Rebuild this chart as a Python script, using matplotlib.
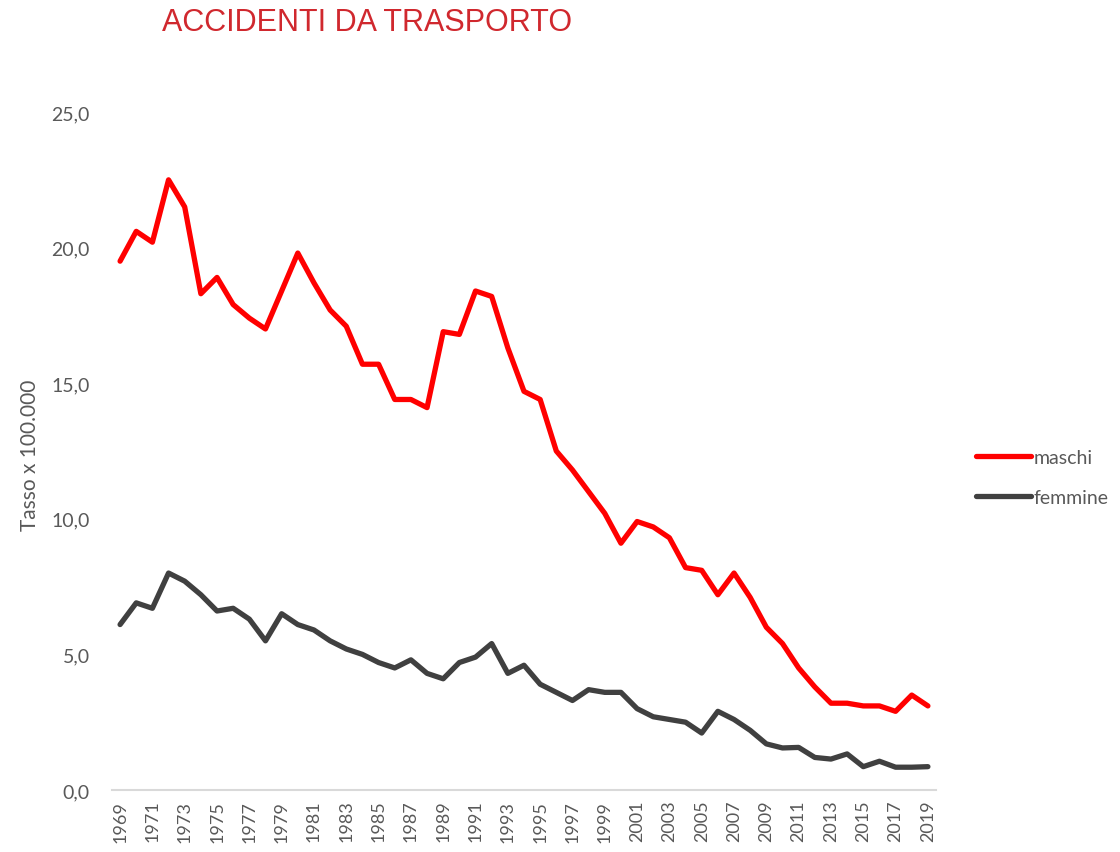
import matplotlib.pyplot as plt
import numpy as np

anni = np.arange(1969, 2020)

maschi = [19.5, 20.6, 20.2, 22.5, 21.5, 18.3, 18.9, 17.9, 17.4, 17.0,
          18.4, 19.8, 18.7, 17.7, 17.1, 15.7, 15.7, 14.4, 14.4, 14.1,
          16.9, 16.8, 18.4, 18.2, 16.3, 14.7, 14.4, 12.5, 11.8, 11.0,
          10.2, 9.1, 9.9, 9.7, 9.3, 8.2, 8.1, 7.2, 8.0, 7.1,
          6.0, 5.4, 4.5, 3.8, 3.2, 3.2, 3.1, 3.1, 2.9, 3.5, 3.1]

femmine = [6.1, 6.9, 6.7, 8.0, 7.7, 7.2, 6.6, 6.7, 6.3, 5.5,
           6.5, 6.1, 5.9, 5.5, 5.2, 5.0, 4.7, 4.5, 4.8, 4.3,
           4.1, 4.7, 4.9, 5.4, 4.3, 4.6, 3.9, 3.6, 3.3, 3.7,
           3.6, 3.6, 3.0, 2.7, 2.6, 2.5, 2.1, 2.9, 2.6, 2.2,
           1.7, 1.55, 1.57, 1.2, 1.14, 1.33, 0.86, 1.06, 0.84, 0.84, 0.86]

y_ticks = [0, 5, 10, 15, 20, 25]
y_labels = ["0,0", "5,0", "10,0", "15,0", "20,0", "25,0"]

testo = "#595959"
font = "Lato"

fig = plt.figure(figsize=(11.2, 8.53), dpi=100)
ax = fig.add_axes([0.1, 0.0727, 0.7357, 0.7948])

ax.plot(anni, maschi, color="#FF0000", lw=3.8, solid_capstyle="round",
        solid_joinstyle="round", label="maschi")
ax.plot(anni, femmine, color="#404040", lw=3.8, solid_capstyle="round",
        solid_joinstyle="round", label="femmine")

ax.set_xlim(1968.5, 2019.5)
ax.set_ylim(0, 25)

for s in ["top", "right", "left"]:
    ax.spines[s].set_visible(False)
ax.spines["bottom"].set_color("#D9D9D9")
ax.spines["bottom"].set_linewidth(1.5)

ax.set_yticks(y_ticks)
ax.set_yticklabels(y_labels, fontsize=14, color=testo, family=font)
ax.set_xticks(anni[::2])
ax.set_xticklabels([str(a) for a in anni[::2]], rotation=90, fontsize=13,
                   color=testo, family=font)
ax.tick_params(length=0)
ax.tick_params(axis="y", pad=16)
ax.tick_params(axis="x", pad=7)

fig.text(0.027, 0.4666, "Tasso x 100.000", rotation=90, fontsize=15,
         color=testo, family=font, ha="center", va="center")

leg = fig.legend(loc="center left", bbox_to_anchor=(0.856, 0.439), frameon=False,
                 handlelength=2.8, handletextpad=0.15, labelspacing=1.2,
                 prop={"family": font, "size": 14})
for t in leg.get_texts():
    t.set_color(testo)

fig.text(0.1446, 0.973, "ACCIDENTI DA TRASPORTO", color="#D0282E",
         fontsize=22, family="Liberation Sans", va="center", ha="left")

fig.savefig("out.png", dpi=100)
